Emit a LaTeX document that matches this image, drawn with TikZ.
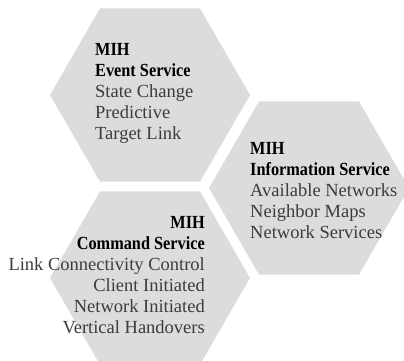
\documentclass[tikz,border=0pt]{standalone}
\usepackage{fontspec}
\setmainfont{Liberation Serif}
\newfontfamily\titlefont[FakeStretch=0.88]{Liberation Serif}
\usetikzlibrary{positioning}
\definecolor{hexgray}{RGB}{220,220,220}
\definecolor{bodygray}{RGB}{60,60,60}
\newcommand{\hd}[1]{{\color{black}\titlefont\bfseries #1}}

\begin{document}
\begin{tikzpicture}[x=1pt,y=-1pt,
    hexa/.style={fill=hexgray,draw=none},
    srv/.style={inner sep=0pt,text=bodygray,font=\fontsize{18.5}{21}\selectfont}]
    \useasboundingbox (0,0) rectangle (404,360);

    %esagoni
    \coordinate (cE) at (150,95);
    \coordinate (cI) at (309,188);
    \coordinate (cC) at (150,278);
    \foreach \c in {cE,cI,cC}
        \fill[hexa] (\c) ++(0:100) -- ++(120:100) -- ++(180:100) -- ++(240:100) -- ++(300:100) -- ++(0:100) -- cycle;

    %testi dei servizi (base = ultima riga)
    \node[srv,anchor=base west,align=left] (event) at (95,139)
        {\hd{MIH}\\ \hd{Event Service}\\ State Change\\ Predictive\\ Target Link};
    \node[srv,anchor=base west,align=left] (info) at (250,238)
        {\hd{MIH}\\ \hd{Information Service}\\ Available Networks\\ Neighbor Maps\\ Network Services};
    \node[srv,anchor=base east,align=right] (command) at (205,333)
        {\hd{MIH}\\ \hd{Command Service}\\ Link Connectivity Control\\ Client Initiated\\ Network Initiated\\ Vertical Handovers};
\end{tikzpicture}
\end{document}
